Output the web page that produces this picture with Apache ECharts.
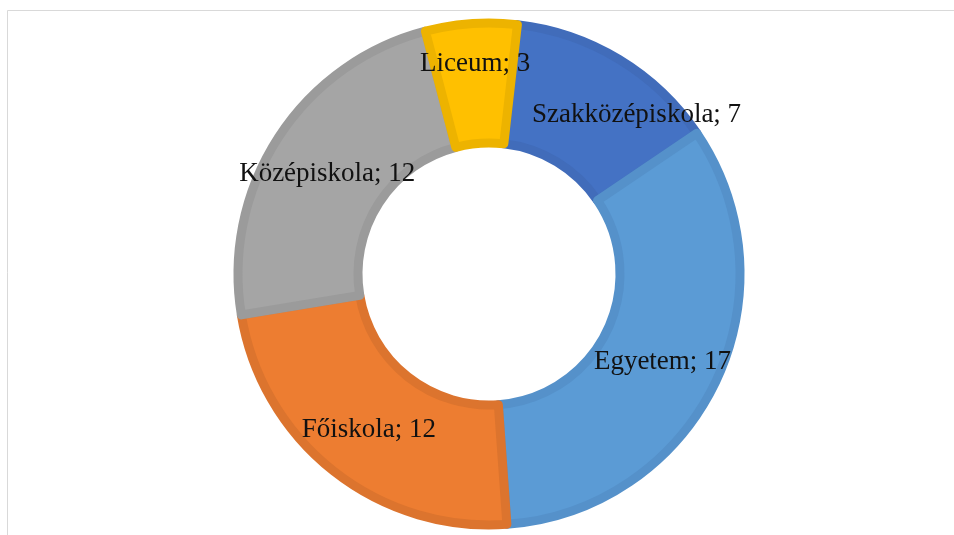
<!DOCTYPE html>
<html>
<head>
<meta charset="utf-8">
<script src="https://cdn.jsdelivr.net/npm/echarts@6/dist/echarts.min.js"></script>
<style>
html,body{margin:0;padding:0;background:#fff;}
#chart{width:954px;height:535px;}
</style>
</head>
<body>
<div id="chart"></div>
<script>
const categories = ['Szakközépiskola', 'Egyetem', 'Főiskola', 'Középiskola', 'Liceum'];
const values = [7, 17, 12, 12, 3];
const fillColors = ['#4472C4', '#5B9BD5', '#ED7D31', '#A5A5A5', '#FFC000'];
const borderColors = ['#416CBA', '#5591CA', '#DC742E', '#9B9B9B', '#EDB300'];
const labelOffsets = [[47, 7], [-1, 3], [0, 4], [1, 5], [0, -17]];

const chart = echarts.init(document.getElementById('chart'), null, {renderer: 'canvas'});
chart.setOption({
  backgroundColor: '#ffffff',
  animation: false,
  graphic: [
    {type: 'line', shape: {x1: 7.5, y1: 10.5, x2: 954, y2: 10.5}, style: {stroke: '#d9d9d9', lineWidth: 1}},
    {type: 'line', shape: {x1: 7.5, y1: 10.5, x2: 7.5, y2: 535}, style: {stroke: '#d9d9d9', lineWidth: 1}}
  ],
  series: [{
    type: 'pie',
    center: [489, 274],
    radius: [131, 251],
    startAngle: 83.5,
    clockwise: true,
    avoidLabelOverlap: false,
    labelLine: {show: false},
    label: {
      show: true,
      position: 'inside',
      formatter: p => p.name + '; ' + p.value,
      fontFamily: '"Liberation Serif", "Times New Roman", serif',
      fontSize: 27,
      color: '#111111'
    },
    data: categories.map((c, i) => ({
      name: c,
      value: values[i],
      itemStyle: {color: fillColors[i], borderColor: borderColors[i], borderWidth: 9},
      label: {offset: labelOffsets[i]}
    }))
  }]
});
</script>
</body>
</html>
